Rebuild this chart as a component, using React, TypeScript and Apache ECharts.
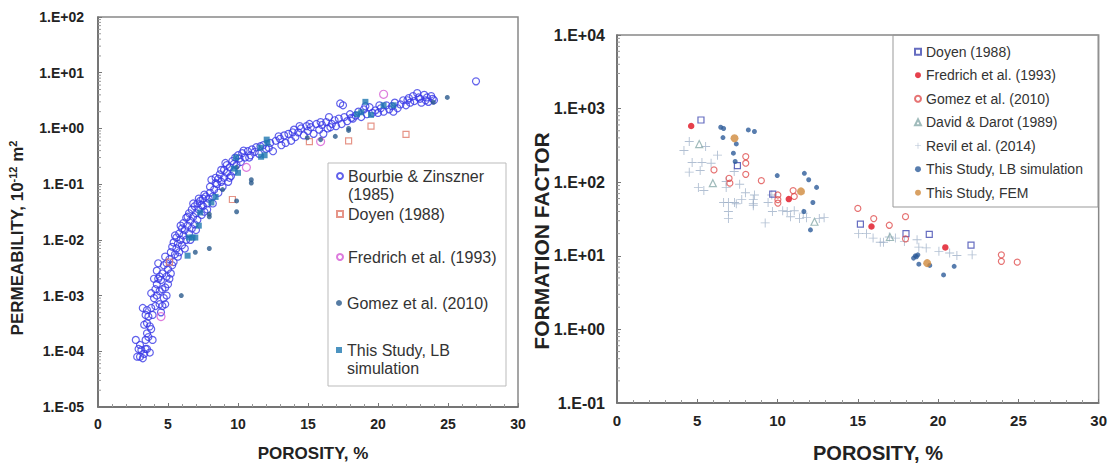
import React, { useEffect, useRef } from "react";
import * as echarts from "echarts";

// ---------------- LEFT CHART: permeability vs porosity ----------------
const bourbie: [number, number][] = [
  [2.7, 1.6e-4], [2.8, 8e-5], [2.9, 1.1e-4], [3.0, 8e-5], [3.1, 1.05e-4], [3.2, 7.5e-5], [3.3, 9e-5], [3.5, 1.1e-4],
  [3.7, 9.5e-5], [3.9, 1.6e-4], [3.4, 1.6e-4], [3.5, 2.1e-4], [3.6, 1.8e-4], [3.3, 3e-4], [3.5, 3.2e-4], [3.7, 2.8e-4],
  [3.2, 6e-4], [3.5, 5.5e-4], [3.6, 4.2e-4], [3.8, 6e-4], [3.8, 1.1e-3], [4.0, 9e-4], [3.9, 4.5e-4], [4.1, 6.5e-4],
  [3.0, 1.3e-4], [3.4, 1.1e-4], [3.8, 2.5e-4], [3.4, 4.5e-4],
  [4.1, 1.3e-3], [4.2, 1.0e-3], [4.3, 2e-3], [4.2, 1.6e-3], [4.4, 1.2e-3], [4.4, 7e-4], [4.5, 5e-4], [4.6, 6.5e-4],
  [4.7, 9e-4], [4.5, 1.9e-3], [4.3, 3.8e-3], [4.6, 2.5e-3], [4.8, 1.4e-3], [4.8, 7e-4], [4.9, 1e-3], [4.7, 3.5e-3],
  [4.9, 2.2e-3], [5.0, 1.6e-3], [5.0, 3e-3], [4.8, 5e-3],
  [4.0, 2e-3], [4.2, 2.8e-3], [4.4, 2.2e-3], [4.6, 1.3e-3], [4.9, 3.8e-3],
  [5.1, 4.5e-3], [5.2, 2.5e-3], [5.2, 6e-3], [5.3, 7.5e-3], [5.4, 4e-3], [5.4, 9e-3], [5.5, 5.5e-3], [5.6, 7e-3],
  [5.6, 1.1e-2], [5.7, 8.5e-3], [5.8, 1.3e-2], [5.8, 6e-3], [5.9, 1e-2], [6.0, 1.6e-2], [6.0, 8e-3],
  [5.1, 2e-3], [5.3, 3.5e-3], [5.5, 1.2e-2], [5.7, 5e-3], [5.9, 1.8e-2],
  [6.1, 1.2e-2], [6.1, 2e-2], [6.2, 1.5e-2], [6.3, 2.5e-2], [6.3, 1e-2], [6.4, 1.8e-2], [6.5, 3e-2], [6.5, 1.3e-2],
  [6.6, 2.2e-2], [6.7, 1.6e-2], [6.7, 3.5e-2], [6.8, 2.6e-2], [6.9, 1.9e-2], [6.9, 4e-2], [7.0, 3e-2],
  [6.2, 7e-3], [6.4, 2.6e-2], [6.6, 1e-2], [6.8, 4.5e-2], [7.0, 1.5e-2],
  [7.1, 2.3e-2], [7.1, 4.5e-2], [7.2, 3.5e-2], [7.3, 5e-2], [7.4, 2.8e-2], [7.5, 4e-2], [7.5, 5.5e-2], [7.6, 3.2e-2],
  [7.7, 6e-2], [7.8, 4.5e-2], [7.9, 5.5e-2], [8.0, 7e-2],
  [7.2, 5.5e-2], [7.4, 4.2e-2], [7.6, 6.5e-2], [7.8, 3.5e-2], [8.0, 9e-2],
  [8.1, 1.2e-1], [8.2, 6e-2], [8.3, 8e-2], [8.4, 1.3e-1], [8.5, 1e-1], [8.6, 7e-2], [8.7, 1.5e-1], [8.8, 1.1e-1],
  [8.9, 9e-2], [9.0, 1.8e-1], [9.0, 1.3e-1],
  [8.2, 4.5e-2], [8.4, 1.05e-1], [8.6, 1.25e-1], [8.8, 1.8e-1],
  [9.1, 2.4e-1], [9.2, 1.6e-1], [9.3, 1.1e-1], [9.4, 2e-1], [9.5, 1.4e-1], [9.6, 2.6e-1], [9.7, 1.7e-1], [9.8, 3e-1],
  [9.9, 2.2e-1], [10.0, 3.3e-1],
  [9.2, 2.2e-1], [9.4, 1.3e-1], [9.7, 2.3e-1],
  [10.2, 2.5e-1], [10.3, 3.6e-1], [10.5, 3e-1], [10.7, 3.9e-1], [10.9, 3.3e-1], [11.0, 4.2e-1],
  [10.1, 2.9e-1], [10.4, 4e-1], [10.8, 3e-1],
  [11.3, 4.6e-1], [11.5, 3.5e-1], [11.8, 5e-1], [12.0, 4.3e-1], [12.3, 5.5e-1], [12.5, 3.9e-1], [12.7, 6e-1], [12.9, 7.2e-1],
  [11.2, 3.8e-1], [11.6, 4.8e-1], [12.2, 4.5e-1],
  [13.1, 5e-1], [13.3, 7.5e-1], [13.4, 5.5e-1], [13.6, 8e-1], [13.8, 6e-1], [14.0, 9.5e-1], [14.1, 7e-1], [14.3, 8.5e-1],
  [14.5, 1.0], [14.7, 7.5e-1], [14.9, 1.1], [15.0, 9e-1],
  [13.0, 6.5e-1], [13.9, 8.5e-1], [14.4, 1.1],
  [15.2, 1.05], [15.4, 8e-1], [15.6, 1.2], [15.8, 9.5e-1], [16.0, 1.15], [16.1, 8e-1], [16.3, 1.3], [16.4, 1.0],
  [16.5, 1.6], [16.7, 1.2], [16.9, 1.4], [17.0, 1.1], [17.3, 2.8], [17.5, 2.6],
  [15.1, 1.2], [15.9, 1.3], [16.6, 1.05],
  [17.2, 1.5], [17.4, 1.2], [17.6, 1.6], [17.8, 1.35], [18.0, 1.8], [18.2, 1.5], [18.4, 1.7], [18.6, 2.0],
  [18.8, 1.6], [19.0, 2.2], [19.2, 1.8], [19.4, 2.4], [19.6, 1.9], [19.8, 2.1], [20.0, 1.9],
  [18.1, 1.55], [19.1, 2.5],
  [20.2, 2.3], [20.4, 2.0], [20.6, 2.6], [20.8, 2.2], [21.0, 2.5], [21.2, 2.9], [21.4, 2.3], [21.6, 2.7],
  [21.8, 3.2], [22.0, 2.6], [22.2, 3.5], [22.3, 2.9], [22.5, 3.8], [22.6, 3.1], [22.8, 4.3], [23.0, 3.4],
  [23.1, 2.9], [23.3, 4.0], [23.5, 3.6], [23.6, 3.0], [23.8, 3.8], [24.0, 3.2], [23.9, 3.4],
  [20.1, 2.6], [21.1, 2.0], [22.1, 3.2], [22.9, 3.6], [23.4, 3.2],
  [27.0, 7.0],
];
const leftDoyen: [number, number][] = [
  [5.1, 4e-3], [9.6, 5.3e-2], [15.1, 5.8e-1], [17.9, 6e-1], [19.5, 1.1], [22.0, 7.8e-1],
];
const leftFredrich: [number, number][] = [
  [4.5, 4.2e-4], [10.6, 2e-1], [15.9, 5.8e-1], [20.4, 4.1],
];
const leftGomez: [number, number][] = [
  [5.95, 1e-3], [6.95, 6e-3], [7.95, 7e-3], [7.95, 2.6e-2], [7.95, 2.9e-2], [8.9, 8e-2], [9.9, 5e-2],
  [9.9, 3.2e-2], [9.9, 2e-1], [10.95, 1.2e-1], [10.95, 1.05e-1], [14.95, 6.8e-1], [15.9, 6.3e-1],
  [16.95, 7.2e-1], [17.9, 9.2e-1], [17.9, 1.0], [23.95, 2.95], [24.95, 3.6],
];
const leftLB: [number, number][] = [
  [6.4, 5.2e-3], [6.5, 1.1e-2], [6.75, 1.1e-2], [6.95, 1.1e-2], [7.2, 1.8e-2], [7.3, 3.1e-2], [8.1, 4.7e-2],
  [8.4, 5.9e-2], [9.7, 1.9e-1], [9.85, 3e-1], [10.0, 1.6e-1], [11.6, 4.5e-1], [11.65, 3.1e-1], [11.9, 3.3e-1],
  [12.05, 6.3e-1], [12.1, 5.5e-1], [18.5, 1.8], [18.8, 1.95], [19.1, 3.0], [19.5, 1.75], [20.4, 2.6], [21.1, 2.6],
];

// ---------------- RIGHT CHART: formation factor vs porosity ----------------
const rightDoyen: [number, number][] = [
  [5.23, 700], [7.5, 168], [9.7, 69], [15.16, 27], [18.0, 20], [19.45, 19.5], [22.05, 14],
];
const rightFredrich: [number, number][] = [
  [4.62, 580], [10.7, 59], [15.85, 25], [20.45, 13],
];
const rightGomez: [number, number][] = [
  [6.04, 147], [6.98, 113], [7.03, 97], [8.02, 223], [8.02, 181], [8.02, 128], [8.99, 105], [10.02, 67],
  [10.02, 58], [10.02, 52], [10.97, 77], [11.04, 64], [15.0, 44], [15.99, 32], [16.96, 26], [17.97, 34],
  [17.97, 17], [23.94, 10.3], [23.94, 8.4], [24.93, 8.2],
];
const rightDavid: [number, number][] = [
  [5.12, 330], [5.97, 97], [12.3, 29], [17.0, 18],
];
const rightRevil: [number, number][] = [
  [4.17, 269], [4.5, 357], [4.68, 185], [4.5, 137], [5.18, 144], [5.29, 185], [5.52, 305], [5.07, 85],
  [5.41, 77], [6.26, 233], [5.86, 181], [6.8, 102], [6.8, 85], [6.64, 53], [6.94, 53], [6.94, 40],
  [6.94, 32], [7.32, 53], [7.43, 51], [7.64, 94], [7.3, 140], [8.0, 72], [7.77, 58], [8.49, 58],
  [8.49, 51], [8.49, 48], [9.23, 28], [9.41, 53], [9.68, 40], [10.32, 41], [10.81, 34], [11.04, 41],
  [11.37, 32], [11.6, 38], [12.6, 32], [12.9, 33], [8.56, 67], [9.64, 67], [10.6, 40], [11.8, 33],
  [15.05, 20], [15.54, 20], [15.95, 17.4], [16.4, 15.3], [16.6, 15.3], [16.96, 18], [17.34, 17.4], [17.9, 15.7],
  [18.69, 16.5], [18.8, 13.1], [19.26, 12.8], [20.05, 11.5], [20.72, 10.9], [21.17, 10.1], [22.12, 10.3],
];
const rightLB: [number, number][] = [
  [6.46, 558], [6.64, 537], [6.6, 404], [8.18, 513], [8.56, 488], [7.43, 331], [7.25, 248], [7.36, 191],
  [9.98, 123], [11.67, 132], [11.94, 108], [12.43, 85], [12.2, 53], [11.64, 40], [12.05, 22.5],
  [18.47, 9.3], [18.58, 10], [18.74, 10.3], [18.65, 9.7], [18.8, 7.7], [19.48, 7.4], [21.0, 7.2], [20.34, 5.5],
];
const rightFEM: [number, number][] = [
  [7.32, 395], [11.46, 75], [19.32, 7.95],
];

// axis ticks
const xTicks = [0, 30];
const leftDecades = [-5, -4, -3, -2, -1, 0, 1];
const rightDecades = [-1, 0, 1, 2, 3];
const minorMultipliers = [2, 3, 4, 5, 6, 7, 8, 9];

const FONT = "'Liberation Sans', Arial, Helvetica, sans-serif";
const PLUS = "path://M4.5,0H5.5V4.5H10V5.5H5.5V10H4.5V5.5H0V4.5H4.5Z";

function expLabel(v: number) {
  const e = Math.round(Math.log10(v));
  return "1.E" + (e < 0 ? "-" : "+") + String(Math.abs(e)).padStart(2, "0");
}

function minorValues(decades: number[]) {
  const out: [number, number][] = [];
  decades.forEach((e) => minorMultipliers.forEach((m) => out.push([0, m * Math.pow(10, e)])));
  return out;
}

function mkX(gridIndex: number, fontSize: number) {
  return {
    type: "value",
    gridIndex,
    min: xTicks[0],
    max: xTicks[1],
    interval: 5,
    axisLine: { show: true, onZero: false, lineStyle: { color: "#666", width: 1.5 } },
    axisTick: { show: true, inside: true, length: 4, lineStyle: { color: "#777" } },
    minorTick: { show: true, splitNumber: 5, length: 3, lineStyle: { color: "#999" } },
    splitLine: { show: false },
    axisLabel: { fontSize, fontWeight: "bold", color: "#222", margin: 10, fontFamily: FONT },
  };
}

function mkY(gridIndex: number, min: number, max: number, split: number, fontSize: number, margin: number) {
  return {
    type: "log",
    logBase: 10,
    gridIndex,
    min,
    max,
    splitNumber: split,
    axisLine: { show: true, onZero: false, lineStyle: { color: "#666", width: 1.5 } },
    axisTick: { show: true, inside: true, length: 4, lineStyle: { color: "#777" } },
    splitLine: { show: false },
    axisLabel: { fontSize, fontWeight: "bold", color: "#222", margin, fontFamily: FONT, formatter: expLabel },
  };
}

function minorSeries(axisIndex: number, decades: number[]) {
  return {
    type: "custom",
    xAxisIndex: axisIndex,
    yAxisIndex: axisIndex,
    silent: true,
    clip: false,
    z: 1,
    data: minorValues(decades),
    renderItem: (params: any, api: any) => {
      const p = api.coord([0, api.value(1)]);
      return {
        type: "line",
        shape: { x1: p[0], y1: p[1], x2: p[0] + 3, y2: p[1] },
        style: { stroke: "#999", lineWidth: 1 },
      };
    },
  };
}

function scatter(name: string, axis: number, data: [number, number][], symbol: string, size: number, color: string, open: boolean, z = 2) {
  return {
    type: "scatter",
    name,
    xAxisIndex: axis,
    yAxisIndex: axis,
    data,
    symbol,
    symbolSize: size,
    z,
    itemStyle: open
      ? { color: "transparent", borderColor: color, borderWidth: 1.2 }
      : { color, borderWidth: 0 },
  };
}

const L_BOURBIE = "Bourbie & Zinszner\n(1985)";
const L_DOYEN = "Doyen (1988)";
const L_FRED = "Fredrich et al. (1993)";
const L_GOMEZ = "Gomez et al. (2010)";
const L_LB = "This Study, LB\nsimulation";
const R_DOYEN = "Doyen (1988) ";
const R_FRED = "Fredrich et al. (1993) ";
const R_GOMEZ = "Gomez et al. (2010) ";
const R_DAVID = "David & Darot (1989)";
const R_REVIL = "Revil et al. (2014)";
const R_LB = "This Study, LB simulation";
const R_FEM = "This Study, FEM";

function leftLegend(name: string, iconCenter: number, twoLine: boolean) {
  const lh = 18.5;
  return {
    data: [name],
    orient: "vertical",
    left: 336,
    // a blank first line keeps the icon level with the first line of a two-line name
    top: twoLine ? iconCenter - lh * 1.5 : iconCenter - lh / 2,
    padding: 0,
    itemWidth: 6,
    itemHeight: 6,
    selectedMode: false,
    formatter: twoLine ? (n: string) => " \n" + n : undefined,
    textStyle: {
      fontSize: 16,
      color: "#333",
      fontFamily: FONT,
      lineHeight: lh,
    },
  };
}

export default function App() {
  const ref = useRef<HTMLDivElement>(null);
  useEffect(() => {
    if (!ref.current) return;
    const chart = echarts.init(ref.current, undefined, { renderer: "svg" });
    const option: any = {
      animation: false,
      backgroundColor: "#fff",
      textStyle: { fontFamily: FONT },
      grid: [
        { left: 98, top: 17, width: 420, height: 390, show: true, borderColor: "#888", borderWidth: 1.5, backgroundColor: "transparent" },
        { left: 617, top: 35, width: 482, height: 368, show: true, borderColor: "#888", borderWidth: 1.5, backgroundColor: "transparent" },
      ],
      xAxis: [mkX(0, 14), mkX(1, 15)],
      yAxis: [mkY(0, 1e-5, 1e2, 7, 14, 14), mkY(1, 0.1, 1e4, 5, 16, 12)],
      legend: [
        leftLegend(L_BOURBIE, 176, true),
        leftLegend(L_DOYEN, 214, false),
        leftLegend(L_FRED, 257, false),
        leftLegend(L_GOMEZ, 303, false),
        leftLegend(L_LB, 350, true),
        {
          data: [R_DOYEN, R_FRED, R_GOMEZ, R_DAVID, R_REVIL, R_LB, R_FEM],
          orient: "vertical",
          left: 914,
          top: 43.7,
          padding: 0,
          itemGap: 7.5,
          itemWidth: 6,
          itemHeight: 6,
          selectedMode: false,
          textStyle: { fontSize: 14, color: "#333", fontFamily: FONT, lineHeight: 16 },
        },
      ],
      graphic: [
        { type: "rect", shape: { x: 328, y: 163, width: 178, height: 223 }, style: { fill: "none", stroke: "#bbb", lineWidth: 1 }, silent: true },
        { type: "rect", shape: { x: 893, y: 35, width: 205, height: 172 }, style: { fill: "none", stroke: "#999", lineWidth: 1 }, silent: true },
        {
          type: "text", x: 313, y: 453,
          style: { text: "POROSITY, %", fontSize: 17, fontWeight: "bold", fontFamily: FONT, fill: "#222", align: "center", verticalAlign: "middle" },
        },
        {
          type: "text", x: 878, y: 453,
          style: { text: "POROSITY, %", fontSize: 20, fontWeight: "bold", fontFamily: FONT, fill: "#222", align: "center", verticalAlign: "middle" },
        },
        {
          type: "text", x: 17, y: 238, rotation: Math.PI / 2,
          style: {
            text: "{a|PERMEABILITY, 10}{s|-12}{a| m}{s|2}",
            align: "center", verticalAlign: "middle", fill: "#222",
            rich: {
              a: { fontSize: 17, fontWeight: "bold", fontFamily: FONT, fill: "#222", lineHeight: 20 },
              s: { fontSize: 11, fontWeight: "bold", fontFamily: FONT, fill: "#222", verticalAlign: "top", lineHeight: 20 },
            },
          },
        },
        {
          type: "text", x: 541, y: 241, rotation: Math.PI / 2,
          style: { text: "FORMATION FACTOR", fontSize: 21, fontWeight: "bold", fontFamily: FONT, fill: "#222", align: "center", verticalAlign: "middle" },
        },
      ],
      series: [
        minorSeries(0, leftDecades),
        minorSeries(1, rightDecades),
        scatter(L_BOURBIE, 0, bourbie, "circle", 7, "#3a3ae6", true, 2),
        scatter(L_DOYEN, 0, leftDoyen, "rect", 6, "#e07a6a", true, 3),
        scatter(L_FRED, 0, leftFredrich, "circle", 8, "#d45ad4", true, 3),
        scatter(L_GOMEZ, 0, leftGomez, "circle", 5, "#2a5a8c", false, 4),
        scatter(L_LB, 0, leftLB, "rect", 6, "#1f78b0", false, 4),
        scatter(R_REVIL, 1, rightRevil, PLUS, 9, "#9fb0c8", false, 2),
        scatter(R_DAVID, 1, rightDavid, "triangle", 7, "#88aaaa", true, 3),
        scatter(R_DOYEN, 1, rightDoyen, "rect", 6, "#4048b0", true, 3),
        scatter(R_GOMEZ, 1, rightGomez, "circle", 6, "#e05050", true, 3),
        scatter(R_FRED, 1, rightFredrich, "circle", 6.5, "#e0101f", false, 4),
        scatter(R_LB, 1, rightLB, "circle", 5, "#2e5c9a", false, 4),
        scatter(R_FEM, 1, rightFEM, "circle", 8, "#d08a3c", false, 5),
      ],
    };
    chart.setOption(option);
    return () => chart.dispose();
  }, []);
  return (
    <div
      ref={ref}
      style={{ position: "fixed", left: 0, top: 0, width: 1110, height: 463, background: "#fff" }}
    />
  );
}
